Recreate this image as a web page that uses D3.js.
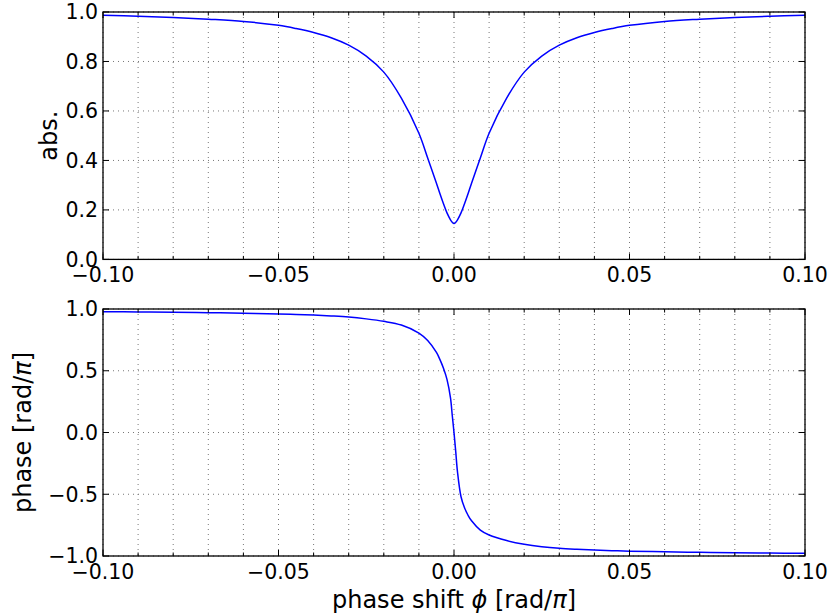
<!DOCTYPE html>
<meta charset="utf-8">
<style>
body { margin: 0; background: #fff; }
svg { font-family: "DejaVu Sans", sans-serif; }
.tick-label { font-size: 20.5px; fill: #000; }
.axis-label { font-size: 24px; fill: #000; }
.grid line { stroke: #777; stroke-width: 1; stroke-dasharray: 1,4; }
.frame { fill: none; stroke: #000; stroke-width: 1.3; }
.tickmark { stroke: #000; stroke-width: 1; }
.curve { fill: none; stroke: #0000ff; stroke-width: 1.5; }
</style>
<body>
<script src="https://cdn.jsdelivr.net/npm/d3@7"></script>
<script>
var w = 834,
    h = 616;

/* data */
var phiShift = [-0.1, -0.09, -0.08, -0.07, -0.06, -0.05, -0.045, -0.04, -0.035, -0.03, -0.025, -0.02, -0.015, -0.01, -0.0075, -0.005, -0.004, -0.003, -0.002, -0.001, -0.0005, 0,
                0.0005, 0.001, 0.002, 0.003, 0.004, 0.005, 0.0075, 0.01, 0.015, 0.02, 0.025, 0.03, 0.035, 0.04, 0.045, 0.05, 0.06, 0.07, 0.08, 0.09, 0.1];
var absVals = [0.987, 0.983, 0.978, 0.971, 0.962, 0.946, 0.933, 0.917, 0.896, 0.866, 0.822, 0.757, 0.652, 0.51, 0.41, 0.308, 0.265, 0.225, 0.188, 0.16, 0.15, 0.145,
               0.15, 0.16, 0.188, 0.225, 0.265, 0.308, 0.41, 0.51, 0.652, 0.757, 0.822, 0.866, 0.896, 0.917, 0.933, 0.946, 0.962, 0.971, 0.978, 0.983, 0.987];
var phaseVals = [0.978, 0.976, 0.974, 0.97, 0.966, 0.96, 0.956, 0.951, 0.944, 0.935, 0.92, 0.9, 0.87, 0.805, 0.745, 0.648, 0.59, 0.52, 0.43, 0.28, 0.14, 0,
                 -0.157, -0.32, -0.52, -0.61, -0.67, -0.715, -0.79, -0.83, -0.875, -0.905, -0.925, -0.938, -0.946, -0.952, -0.957, -0.961, -0.966, -0.97, -0.974, -0.976, -0.978];

var xMajor = [-0.1, -0.05, 0, 0.05, 0.1],
    xMinor = [-0.09, -0.08, -0.07, -0.06, -0.04, -0.03, -0.02, -0.01, 0.01, 0.02, 0.03, 0.04, 0.06, 0.07, 0.08, 0.09],
    absTicks = [0, 0.2, 0.4, 0.6, 0.8, 1.0],
    phaseTicks = [-1, -0.5, 0, 0.5, 1];

var fmtX = d3.format(".2f"),
    fmtY = d3.format(".1f");

var svg = d3.select("body").append("svg")
    .attr("width", w)
    .attr("height", h);

svg.append("rect").attr("width", w).attr("height", h).attr("fill", "#fff");

var x = d3.scaleLinear().domain([-0.1, 0.1]).range([103, 805]);

function drawPanel(top, bottom, yDomain, yTicks, values, labelX, labelText) {
  var y = d3.scaleLinear().domain(yDomain).range([bottom, top]);
  var g = svg.append("g");

  /* grid */
  var grid = g.append("g").attr("class", "grid");
  grid.selectAll("line.v")
      .data(xMajor.concat(xMinor))
    .enter().append("line")
      .attr("x1", function(d) { return x(d); })
      .attr("x2", function(d) { return x(d); })
      .attr("y1", top)
      .attr("y2", bottom);
  grid.selectAll("line.h")
      .data(yTicks)
    .enter().append("line")
      .attr("x1", x.range()[0])
      .attr("x2", x.range()[1])
      .attr("y1", function(d) { return y(d); })
      .attr("y2", function(d) { return y(d); });

  /* curve */
  var line = d3.line()
      .x(function(d, i) { return x(phiShift[i]); })
      .y(function(d) { return y(d); })
      .curve(d3.curveCatmullRom.alpha(0.5));
  g.append("path")
      .attr("class", "curve")
      .attr("d", line(values));

  /* tick marks, inside, all sides */
  var ticks = g.append("g");
  xMajor.forEach(function(d) {
    ticks.append("line").attr("class", "tickmark")
      .attr("x1", x(d)).attr("x2", x(d)).attr("y1", bottom).attr("y2", bottom - 6);
    ticks.append("line").attr("class", "tickmark")
      .attr("x1", x(d)).attr("x2", x(d)).attr("y1", top).attr("y2", top + 6);
  });
  xMinor.forEach(function(d) {
    ticks.append("line").attr("class", "tickmark")
      .attr("x1", x(d)).attr("x2", x(d)).attr("y1", bottom).attr("y2", bottom - 3.5);
    ticks.append("line").attr("class", "tickmark")
      .attr("x1", x(d)).attr("x2", x(d)).attr("y1", top).attr("y2", top + 3.5);
  });
  yTicks.forEach(function(d) {
    ticks.append("line").attr("class", "tickmark")
      .attr("x1", x.range()[0]).attr("x2", x.range()[0] + 6).attr("y1", y(d)).attr("y2", y(d));
    ticks.append("line").attr("class", "tickmark")
      .attr("x1", x.range()[1]).attr("x2", x.range()[1] - 6).attr("y1", y(d)).attr("y2", y(d));
  });

  /* frame */
  g.append("rect")
      .attr("class", "frame")
      .attr("x", x.range()[0])
      .attr("y", top)
      .attr("width", x.range()[1] - x.range()[0])
      .attr("height", bottom - top);

  /* tick labels */
  g.selectAll("text.xt")
      .data(xMajor)
    .enter().append("text")
      .attr("class", "tick-label")
      .attr("x", function(d) { return x(d); })
      .attr("y", bottom + 23)
      .attr("text-anchor", "middle")
      .text(function(d) { return fmtX(d).replace("-", "\u2212"); });
  g.selectAll("text.yt")
      .data(yTicks)
    .enter().append("text")
      .attr("class", "tick-label")
      .attr("x", x.range()[0] - 5)
      .attr("y", function(d) { return y(d); })
      .attr("dy", "0.36em")
      .attr("text-anchor", "end")
      .text(function(d) { return fmtY(d).replace("-", "\u2212"); });

  /* y label */
  var lab = g.append("text")
      .attr("class", "axis-label")
      .attr("text-anchor", "middle")
      .attr("transform", "translate(" + labelX + "," + ((top + bottom) / 2) + ") rotate(-90)");
  labelText(lab);
  return y;
}

/* abs panel */
drawPanel(12, 259.4, [0, 1], absTicks, absVals, 57, function(t) { t.text("abs."); });

/* phase panel */
drawPanel(309, 556, [-1, 1], phaseTicks, phaseVals, 31, function(t) {
  t.append("tspan").text("phase [rad/");
  t.append("tspan").attr("font-style", "italic").text("\u03c0");
  t.append("tspan").text("]");
});

/* x label */
var xl = svg.append("text")
    .attr("class", "axis-label")
    .attr("x", (x.range()[0] + x.range()[1]) / 2)
    .attr("y", 608)
    .attr("text-anchor", "middle");
xl.append("tspan").text("phase shift ");
xl.append("tspan").attr("font-style", "italic").text("\u03d5");
xl.append("tspan").text(" [rad/");
xl.append("tspan").attr("font-style", "italic").text("\u03c0");
xl.append("tspan").text("]");
</script>
</body>
